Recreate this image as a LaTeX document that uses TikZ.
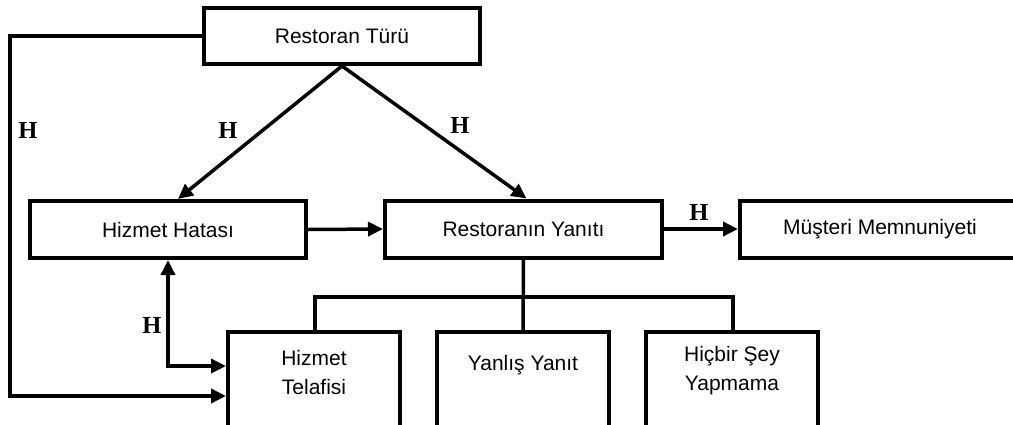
\documentclass[tikz,border=0pt]{standalone}
\usepackage{fontspec}
\setmainfont{Liberation Sans}
\newfontfamily\hfont{Liberation Serif}
\usetikzlibrary{arrows.meta}
\begin{document}
\begin{tikzpicture}[x=1pt,y=-1pt,
  box/.style={draw,line width=4pt,rectangle,inner sep=0pt,font=\fontsize{21}{29}\selectfont,align=center},
  conn/.style={line width=3.5pt},
  arr/.style={conn,-{Triangle[length=15pt,width=14pt]}},
  dblarr/.style={conn,{Triangle[length=15pt,width=14pt]}-{Triangle[length=15pt,width=14pt]}},
  hl/.style={font=\hfont\bfseries\fontsize{24.5}{24.5}\selectfont,inner sep=0pt},
  btxt/.style={font=\fontsize{21}{29}\selectfont,align=center,inner sep=0pt}]
\useasboundingbox (0,0) rectangle (1013,424);
\clip (0,0) rectangle (1013,424);
\fill[white] (0,0) rectangle (1013,424);
\node[box,minimum width=276pt,minimum height=56pt] (rt) at (342,36) {Restoran Türü};
\node[box,minimum width=276pt,minimum height=57pt] (hh) at (168,229.5) {Hizmet Hatası};
\node[box,minimum width=277pt,minimum height=57pt] (ry) at (523.5,229) {Restoranın Yanıtı};
\node[box,minimum width=290pt,minimum height=57pt] (mm) at (885,229) {};
\node[btxt] (mmt) at (880,229) {Müşteri Memnuniyeti};
\node[box,minimum width=172pt,minimum height=110pt] (ht) at (314,387) {};
\node[box,minimum width=172pt,minimum height=110pt] (yy) at (523,387) {};
\node[box,minimum width=172pt,minimum height=110pt] (hs) at (732,387) {};
\node[btxt] (htt) at (314,372) {Hizmet\\Telafisi};
\node[btxt] (yyt) at (523,365) {Yanlış Yanıt};
\node[btxt] (hst) at (732,371) {Hiçbir Şey\\Yapmama};
\coordinate (c1) at (10,396);
\coordinate (c2) at (168,366);
\draw[arr] (rt.west) -| (c1) -- (c1 -| ht.west);
\draw[arr] (rt.south) -- ([xshift=10pt]hh.north);
\draw[arr] (rt.south) -- ([xshift=3pt]ry.north);
\draw[arr] (hh.east) -- (ry.west);
\draw[arr] (ry.east) -- (ry.east -| mm.west);
\draw[conn] (ry.south) -- (yy.north);
\draw[conn] ([xshift=1pt]ht.north) -- ++(0,-33) -| ([xshift=1pt]hs.north);
\draw[dblarr] (hh.south) -- (c2) -- (c2 -| ht.west);
\node[hl] (h1) at (28,130) {H};
\node[hl] (h2) at (228,130) {H};
\node[hl] (h3) at (460,125) {H};
\node[hl] (h4) at (699,212) {H};
\node[hl] (h5) at (152,325) {H};
\end{tikzpicture}
\end{document}
